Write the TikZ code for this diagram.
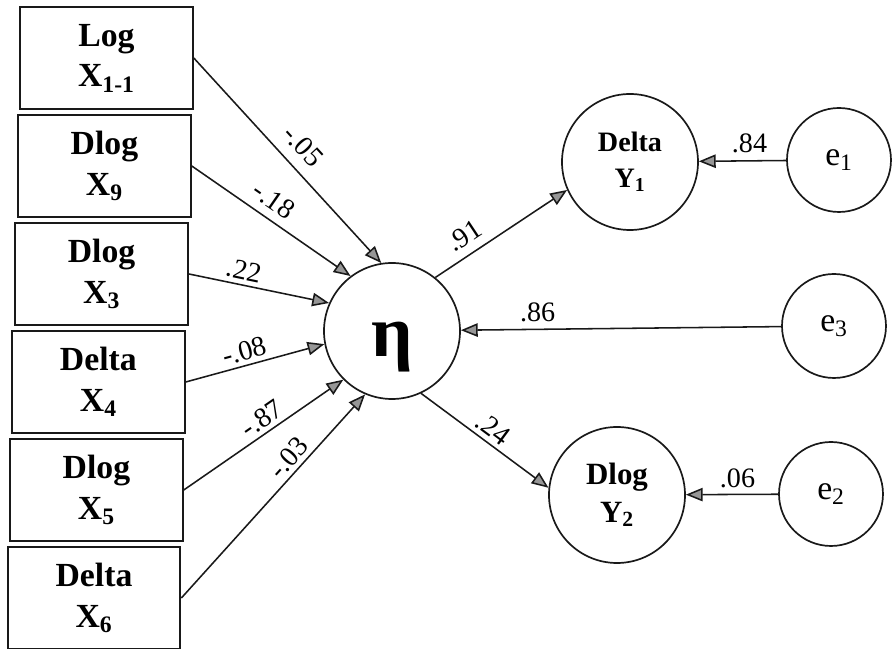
\documentclass[tikz,border=0pt]{standalone}
\usepackage{fontspec}
\setmainfont{Liberation Serif}
\usetikzlibrary{arrows.meta,positioning}
\definecolor{cInk}{RGB}{25,25,25}
\definecolor{cTip}{RGB}{150,150,150}
\tikzset{
  obs/.style ={draw=cInk,line width=1.4pt,minimum width=43.2mm,minimum height=25.4mm,
               align=center,inner sep=0pt,font=\fontsize{24}{29}\selectfont\bfseries},
  core/.style={circle,draw=cInk,line width=1.2pt,minimum size=34mm,inner sep=0pt},
  lat/.style ={core,align=center,font=\fontsize{21}{26}\selectfont\bfseries},
  err/.style ={core,minimum size=26mm,font=\fontsize{24}{28}\selectfont},
  fl/.style  ={-{Triangle[length=12pt,width=9.5pt,fill=cTip]},draw=cInk,line width=1.1pt},
  lbl/.style ={font=\fontsize{20}{24}\selectfont,inner sep=3pt},
}

\begin{document}
\begin{tikzpicture}[x=1cm,y=1cm]
\useasboundingbox (0,0) rectangle (22.3,16.225);

%% observed predictors (scan is slightly skewed, so x drifts left)
\node[obs] (xl1) at (2.66,14.775) {Log\\X\textsubscript{1-1}};
\node[obs] (xd9) at (2.61,12.075) {Dlog\\X\textsubscript{9}};
\node[obs] (xd3) at (2.54,9.375)  {Dlog\\X\textsubscript{3}};
\node[obs] (xe4) at (2.46,6.675)  {Delta\\X\textsubscript{4}};
\node[obs] (xd5) at (2.41,3.975)  {Dlog\\X\textsubscript{5}};
\node[obs] (xe6) at (2.35,1.275)  {Delta\\X\textsubscript{6}};

%% latent index and outcomes
\node[core,font=\fontsize{52}{52}\selectfont\bfseries] (eta) at (9.8,7.95)
  {\raisebox{-0.4cm}[\height][\depth]{η}};
\node[lat,font=\fontsize{20}{25}\selectfont\bfseries] (y1) at (15.75,12.175) {Delta\\Y\textsubscript{1}};
\node[lat,font=\fontsize{22}{27}\selectfont\bfseries] (y2) at (15.425,3.85)  {Dlog\\Y\textsubscript{2}};

%% error terms
\node[err] (e1) at (20.975,12.225) {e\textsubscript{1}};
\node[err] (e3) at (20.85,8.075)   {e\textsubscript{3}};
\node[err] (e2) at (20.775,3.875)  {e\textsubscript{2}};

%% paths into eta
\draw[fl] (xl1.east) -- node[lbl,sloped,above=5pt,pos=0.5]  {-.05} (eta.99);
\draw[fl] (xd9.east) -- node[lbl,sloped,above=3pt,pos=0.45] {-.18} (eta.127);
\draw[fl] (xd3.east) -- node[lbl,sloped,above,pos=0.37]     {.22}  (eta.156);
\draw[fl] (xe4.east) -- node[lbl,sloped,above,pos=0.45]     {-.08} (eta.191);
\draw[fl] (xd5.east) -- node[lbl,sloped,above,pos=0.54]     {-.87} (eta.225);
\draw[fl] (xe6.east) -- node[lbl,sloped,above,pos=0.64]     {-.03} (eta.247);

%% paths out of eta, and errors
\draw[fl] (eta.51)  -- node[lbl,sloped,above=3pt,pos=0.3] {.91} (y1.204);
\draw[fl] (eta.-65) -- node[lbl,sloped,above,pos=0.5]     {.24} (y2.174);
\draw[fl] (e1) -- node[lbl,above=2pt,pos=0.42] {.84} (y1);
\draw[fl] (e3) -- node[lbl,above=2pt,pos=0.76] {.86} (eta);
\draw[fl] (e2) -- node[lbl,above=1pt,pos=0.44] {.06} (y2);

\end{tikzpicture}
\end{document}
